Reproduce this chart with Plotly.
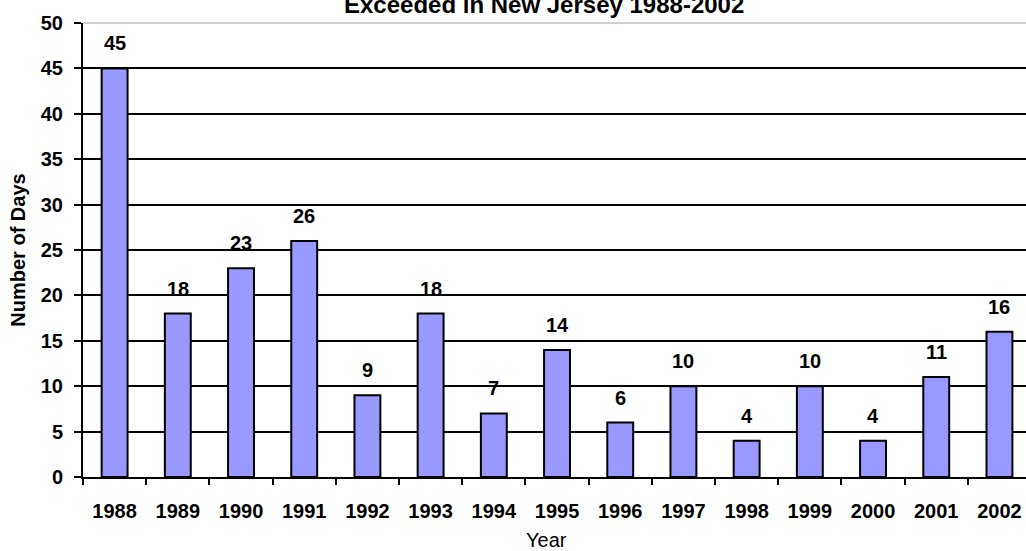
import plotly.graph_objects as go

years = ["1988", "1989", "1990", "1991", "1992", "1993", "1994", "1995",
         "1996", "1997", "1998", "1999", "2000", "2001", "2002"]
days = [45, 18, 23, 26, 9, 18, 7, 14, 6, 10, 4, 10, 4, 11, 16]
y_ticks = [0, 5, 10, 15, 20, 25, 30, 35, 40, 45, 50]
grid_ticks = [5, 10, 15, 20, 25, 30, 35, 40, 45]

FONT = "Liberation Sans, Arial, sans-serif"
BOLD = dict(family=FONT, size=20, color="black", weight="bold")

fig = go.Figure()
fig.add_trace(go.Bar(
    x=years, y=days, width=0.41,
    marker=dict(color="#9999FF", line=dict(color="black", width=2)),
    hoverinfo="x+y",
))

# value labels above each bar (category index keeps year strings from being read as numbers)
for i, d in enumerate(days):
    fig.add_annotation(x=i, y=d, text=str(d), showarrow=False,
                       yanchor="bottom", yshift=12, font=BOLD)

# chart title (only its second line sits inside the canvas)
fig.add_annotation(x=(546 - 83) / (1031 - 83), xref="paper", y=1, yref="paper",
                   yanchor="bottom", xanchor="center",
                   text="Exceeded in New Jersey 1988-2002",
                   showarrow=False, yshift=3,
                   font=dict(family=FONT, size=24, color="black", weight="bold"))

# x-axis title
fig.add_annotation(x=(549 - 83) / (1031 - 83), xref="paper",
                   y=(477 - 540) / 454, yref="paper", yanchor="middle",
                   xanchor="center", text="Year", showarrow=False,
                   font=dict(family=FONT, size=20, color="black"))

# gray plot-area top border
fig.add_shape(type="line", xref="paper", yref="paper", x0=0, x1=1, y0=1, y1=1,
              line=dict(color="#A0A0A0", width=1))

fig.update_layout(
    width=1026, height=551,
    margin=dict(l=83, r=0, t=23, b=74),
    paper_bgcolor="white", plot_bgcolor="white",
    showlegend=False,
    font=dict(family=FONT, color="black"),
    xaxis=dict(
        type="category", range=[-0.5, 14.42],
        tickson="boundaries", ticks="outside", ticklen=6, tickwidth=2,
        tickcolor="black", showline=True, linecolor="black", linewidth=2,
        showgrid=False, tickfont=BOLD, ticklabelstandoff=15,
    ),
    yaxis=dict(
        range=[0, 50], tickvals=y_ticks, ticks="outside", ticklen=7,
        tickwidth=2, tickcolor="black", showline=True, linecolor="black",
        linewidth=2, showgrid=False, zeroline=False, tickfont=BOLD,
        ticklabelstandoff=7,
        title=dict(text="Number of Days", font=BOLD, standoff=10),
    ),
    yaxis2=dict(
        range=[0, 50], overlaying="y", tickvals=grid_ticks, showgrid=True,
        gridcolor="black", gridwidth=2, showticklabels=False, zeroline=False,
        showline=False, layer="below traces",
    ),
)
# invisible trace to anchor the grid axis
fig.add_trace(go.Scatter(x=years, y=days, yaxis="y2", mode="none",
                         hoverinfo="skip", showlegend=False))

fig.write_html("out.html")
